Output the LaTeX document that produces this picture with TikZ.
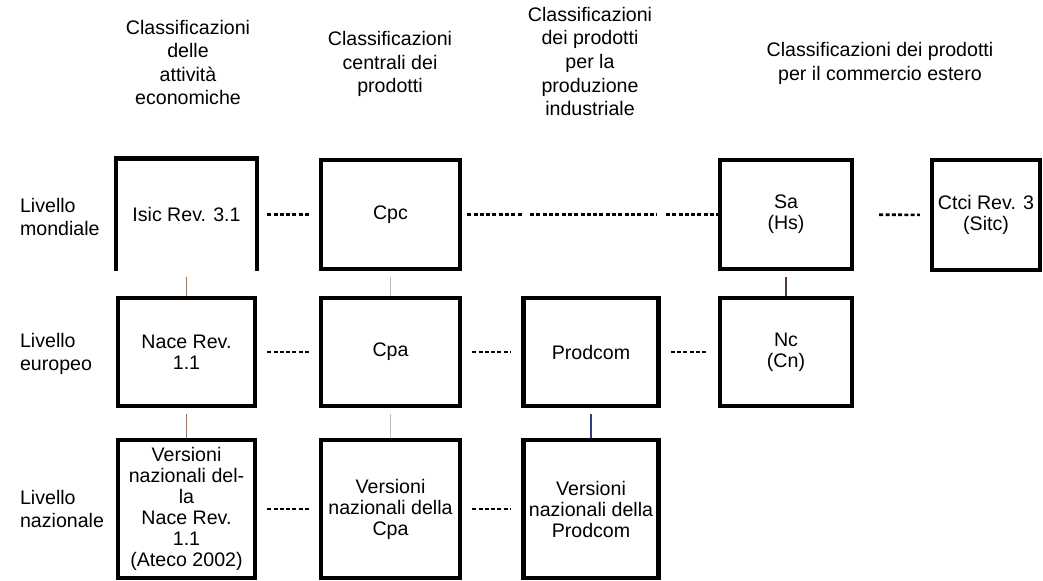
\documentclass[tikz,border=0pt]{standalone}
\usepackage{fontspec}
\setmainfont{Liberation Sans}
\definecolor{linkbrown}{RGB}{176,112,64}
\definecolor{linkgray}{RGB}{185,190,200}
\definecolor{linkblue}{RGB}{50,60,130}
\definecolor{linkdark}{RGB}{80,55,65}
\begin{document}
\begin{tikzpicture}[x=0.5pt,y=-0.5pt,font=\fontsize{9.8}{10.5}\selectfont,
  box/.style={draw,line width=2.2pt,inner sep=0pt,align=center,minimum height=54pt},
  title/.style={align=center,font=\fontsize{9.8}{11.8}\selectfont},
  level/.style={anchor=west,align=left,font=\fontsize{9.8}{11.6}\selectfont},
  dlink/.style={line width=1.3pt,dash pattern=on 2pt off 1.15pt,shorten <=5pt,shorten >=5pt},
  vlink/.style={line width=0.75pt,shorten <=3pt}]
\useasboundingbox (0,0) rectangle (1043,580);
\node [title] (hatt) at (188,62.5) {Classificazioni\\delle\\attività\\economiche};
\node [title] (hcpc) at (390,64) {Classificazioni\\centrali dei\\prodotti};
\node [title] (hind) at (590,61.5) {Classificazioni\\dei prodotti\\per la\\produzione\\industriale};
\node [title] (hest) at (880,63.5) {Classificazioni dei prodotti\\per il commercio estero};
\node [level] (lmond) at (13,217) {Livello\\mondiale};
\node [level] (leur) at (13,354) {Livello\\europeo};
\node [level] (lnaz) at (13,509) {Livello\\nazionale};
\node [box,draw=none,minimum width=68.5pt] (isic) at (186.5,214.5) {Isic Rev. 3.1};
\draw [line width=2.2pt] (isic.south west) -- (isic.north west) -- (isic.north east) -- (isic.south east);
\node [box,minimum width=69.5pt,minimum height=54.5pt] (cpc) at (390.5,214.5) {Cpc};
\node [minimum width=67.5pt,minimum height=54pt,inner sep=0pt] (vuoto) at (591,214.5) {};
\node [box,minimum width=66pt,minimum height=54.5pt] (sa) at (786,214.5) {Sa\\(Hs)};
\node [box,minimum width=54pt,minimum height=55pt] (ctci) at (986,215) {Ctci Rev. 3\\(Sitc)};
\node [box,minimum width=68.5pt] (nace) at (186.5,352) {Nace Rev.\\1.1};
\node [box,minimum width=69.5pt] (cpa) at (390.5,352) {Cpa};
\node [box,minimum width=67.5pt] (prodcom) at (591,352) {Prodcom};
\node [box,minimum width=66pt] (nc) at (786,352) {Nc\\(Cn)};
\node [box,minimum width=68.5pt,minimum height=69pt] (vnace) at (186.5,509) {Versioni\\nazionali del-\\la\\Nace Rev.\\1.1\\(Ateco 2002)};
\node [box,minimum width=69.5pt,minimum height=69pt] (vcpa) at (390.5,509) {Versioni\\nazionali della\\Cpa};
\node [box,minimum width=67.5pt,minimum height=69pt] (vprodcom) at (591,509) {Versioni\\nazionali della\\Prodcom};
\draw [dlink] (isic) -- (cpc);
\draw [dlink,shorten <=2.5pt,shorten >=0.5pt] (cpc) -- (vuoto.west);
\draw [dlink,shorten <=3.5pt,shorten >=1pt] (vuoto.west) -- (vuoto.east);
\draw [dlink,shorten <=3.5pt,shorten >=0pt] (vuoto.east) -- (sa);
\draw [dlink,shorten <=12.5pt] (sa) -- (ctci);
\draw [dlink] (nace) -- (cpa);
\draw [dlink] (cpa) -- (prodcom);
\draw [dlink] (prodcom) -- (nc);
\draw [dlink] (vnace) -- (vcpa);
\draw [dlink] (vcpa) -- (vprodcom);
\draw [vlink,linkbrown] (isic.south) -- (nace);
\draw [vlink,linkbrown] (nace) -- (vnace);
\draw [vlink,linkgray] (cpc) -- (cpa);
\draw [vlink,linkgray] (cpa) -- (vcpa);
\draw [vlink,linkblue] (prodcom) -- (vprodcom);
\draw [vlink,linkdark] (sa) -- (nc);
\end{tikzpicture}
\end{document}
